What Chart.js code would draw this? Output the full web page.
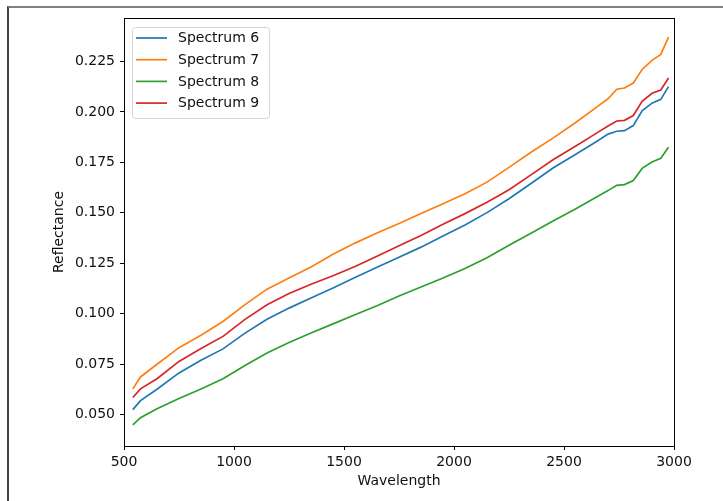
<!DOCTYPE html>
<html>
<head>
<meta charset="utf-8">
<script src="https://cdn.jsdelivr.net/npm/chart.js@4.4.1/dist/chart.umd.min.js"></script>
<style>
  html, body { margin: 0; padding: 0; background: #fff; }
  #wrap { position: relative; width: 723px; height: 501px; overflow: hidden; }
  #grafico { position: absolute; left: 0; top: 0; }
  #marco { position: absolute; left: 7px; top: 6px; right: -4px; bottom: -4px;
           border-left: 2px solid #444; border-top: 2px solid #808080; pointer-events: none; }
</style>
</head>
<body>
<div id="wrap">
  <canvas id="grafico" width="723" height="501"></canvas>
  <div id="marco"></div>
</div>
<script>
// Longitudes de onda y reflectancia de cada espectro
const wavelengths = [540, 575, 650, 750, 850, 950, 1050, 1150, 1250, 1350, 1450, 1550, 1650, 1750, 1850,
                     1950, 2050, 2150, 2250, 2350, 2450, 2550, 2650, 2700, 2740, 2775, 2815, 2855, 2900, 2940, 2975];
const spectrum6 = [0.0525, 0.0570, 0.0626, 0.0707, 0.0770, 0.0826, 0.0904, 0.0973, 0.1028, 0.1078, 0.1128,
                   0.1180, 0.1230, 0.1280, 0.1330, 0.1385, 0.1440, 0.1501, 0.1570, 0.1645, 0.1722, 0.1788,
                   0.1855, 0.1890, 0.1904, 0.1907, 0.1932, 0.2005, 0.2043, 0.2062, 0.2125];
const spectrum7 = [0.0628, 0.0687, 0.0750, 0.0832, 0.0894, 0.0962, 0.1045, 0.1122, 0.1177, 0.1232, 0.1295,
                   0.1350, 0.1400, 0.1447, 0.1497, 0.1545, 0.1594, 0.1652, 0.1725, 0.1800, 0.1870, 0.1945,
                   0.2025, 0.2065, 0.2112, 0.2118, 0.2143, 0.2210, 0.2255, 0.2285, 0.2370];
const spectrum8 = [0.0450, 0.0485, 0.0530, 0.0580, 0.0627, 0.0678, 0.0744, 0.0806, 0.0858, 0.0905, 0.0950,
                   0.0995, 0.1040, 0.1088, 0.1133, 0.1177, 0.1224, 0.1278, 0.1339, 0.1399, 0.1459, 0.1518,
                   0.1580, 0.1610, 0.1636, 0.1640, 0.1660, 0.1720, 0.1752, 0.1770, 0.1825];
const spectrum9 = [0.0585, 0.0628, 0.0678, 0.0764, 0.0828, 0.0888, 0.0972, 0.1045, 0.1100, 0.1146, 0.1188,
                   0.1234, 0.1285, 0.1337, 0.1388, 0.1443, 0.1496, 0.1552, 0.1614, 0.1688, 0.1763, 0.1829,
                   0.1896, 0.1930, 0.1955, 0.1958, 0.1982, 0.2052, 0.2092, 0.2108, 0.2168];
const seriesLabels = ['Spectrum 6', 'Spectrum 7', 'Spectrum 8', 'Spectrum 9'];
const seriesColors = ['#1f77b4', '#ff7f0e', '#2ca02c', '#d62728'];
const xTicks = [500, 1000, 1500, 2000, 2500, 3000];
const yTicks = [0.050, 0.075, 0.100, 0.125, 0.150, 0.175, 0.200, 0.225];

const fuente = 'DejaVu Sans';

function puntos(valores) {
    return wavelengths.map((w, i) => ({ x: w, y: valores[i] }));
}

// Marco de los ejes (los cuatro lados)
const bordeEjes = {
    id: 'bordeEjes',
    afterDatasetsDraw(chart) {
        const a = chart.chartArea;
        const ctx = chart.ctx;
        ctx.save();
        ctx.strokeStyle = '#000';
        ctx.lineWidth = 1;
        ctx.strokeRect(Math.round(a.left) + 0.5, Math.round(a.top) + 0.5,
                       Math.round(a.right - a.left), Math.round(a.bottom - a.top));
        ctx.restore();
    }
};

// Leyenda dentro del área del gráfico, arriba a la izquierda
const leyenda = {
    id: 'leyenda',
    afterDraw(chart) {
        const ctx = chart.ctx;
        const x0 = chart.chartArea.left + 8;
        const y0 = chart.chartArea.top + 9;
        const fila = 21.7;
        ctx.save();
        ctx.fillStyle = 'rgba(255,255,255,0.8)';
        ctx.strokeStyle = '#d5d5d5';
        ctx.lineWidth = 1;
        ctx.beginPath();
        ctx.roundRect(x0 + 0.5, y0 + 0.5, 137, 91, 3);
        ctx.fill();
        ctx.stroke();
        ctx.font = '14px "' + fuente + '"';
        ctx.textBaseline = 'middle';
        chart.data.datasets.forEach((ds, i) => {
            const y = y0 + 11 + i * fila;
            ctx.strokeStyle = ds.borderColor;
            ctx.lineWidth = 1.7;
            ctx.beginPath();
            ctx.moveTo(x0 + 4, y);
            ctx.lineTo(x0 + 35, y);
            ctx.stroke();
            ctx.fillStyle = '#111';
            ctx.fillText(ds.label, x0 + 46, y + 0.5);
        });
        ctx.restore();
    }
};

document.addEventListener('DOMContentLoaded', function () {
    const series = [spectrum6, spectrum7, spectrum8, spectrum9];
    const ctx = document.getElementById('grafico').getContext('2d');
    new Chart(ctx, {
        type: 'line',
        data: {
            datasets: series.map((valores, i) => ({
                label: seriesLabels[i],
                data: puntos(valores),
                borderColor: seriesColors[i],
                backgroundColor: seriesColors[i],
                borderWidth: 1.7,
                pointRadius: 0,
                tension: 0,
                fill: false
            }))
        },
        options: {
            responsive: false,
            animation: false,
            layout: { padding: { left: 47, right: 49, top: 18, bottom: 7 } },
            plugins: {
                legend: { display: false },
                tooltip: { enabled: false }
            },
            scales: {
                x: {
                    type: 'linear',
                    min: 500,
                    max: 3000,
                    afterBuildTicks: (s) => { s.ticks = xTicks.map(v => ({ value: v })); },
                    afterFit: (s) => { s.height = 48; },
                    border: { display: false },
                    grid: { drawOnChartArea: false, drawTicks: true, tickLength: 4, color: '#000' },
                    ticks: {
                        padding: 4,
                        color: '#111',
                        maxRotation: 0,
                        font: { family: fuente, size: 14 },
                        callback: (v) => String(v)
                    },
                    title: {
                        display: true,
                        text: 'Wavelength',
                        color: '#111',
                        font: { family: fuente, size: 14 },
                        padding: { top: 0, bottom: 4 }
                    }
                },
                y: {
                    type: 'linear',
                    min: 0.0345,
                    max: 0.2465,
                    afterBuildTicks: (s) => { s.ticks = yTicks.map(v => ({ value: v })); },
                    afterFit: (s) => { s.width = 77; },
                    border: { display: false },
                    grid: { drawOnChartArea: false, drawTicks: true, tickLength: 4, color: '#000' },
                    ticks: {
                        padding: 5,
                        color: '#111',
                        font: { family: fuente, size: 14 },
                        callback: (v) => Number(v).toFixed(3)
                    },
                    title: {
                        display: true,
                        text: 'Reflectance',
                        color: '#111',
                        font: { family: fuente, size: 14 },
                        padding: { top: 4, bottom: 0 }
                    }
                }
            }
        },
        plugins: [bordeEjes, leyenda]
    });
});
</script>
</body>
</html>
